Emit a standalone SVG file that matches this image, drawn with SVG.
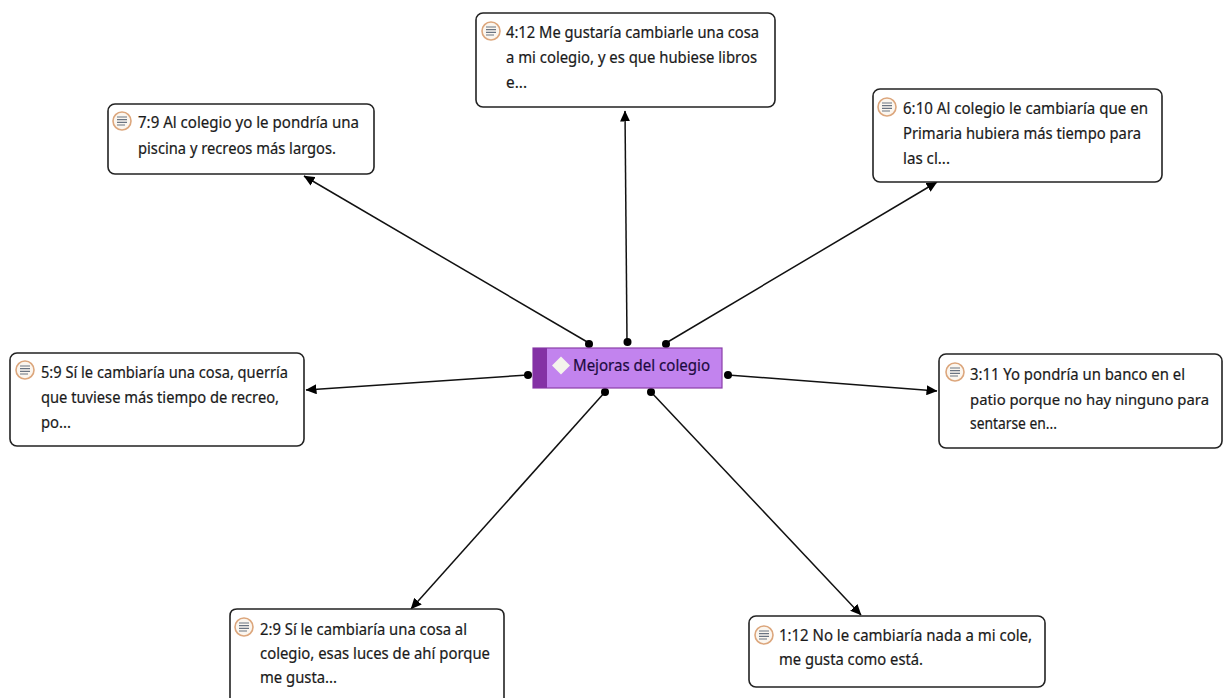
<svg xmlns="http://www.w3.org/2000/svg" width="1223" height="698" viewBox="0 0 1223 698">
<style>
.box{fill:#fff;stroke:#222;stroke-width:1.6}
.t{font-family:"Noto Sans","Open Sans","DejaVu Sans",sans-serif;font-size:16px;fill:#1a1a1a;stroke:#1a1a1a;stroke-width:.2}
.c{stroke:#111;stroke-width:1.5;fill:none;marker-end:url(#a)}
.d{fill:#000}
.ic{fill:#fbf6ef;stroke:#dca67c;stroke-width:1.6}
.il{stroke:#6a7482;stroke-width:1.2}
</style>
<defs>
<marker id="a" markerUnits="userSpaceOnUse" markerWidth="11" markerHeight="10" refX="10.500" refY="5" orient="auto"><path d="M0 0L11 5L0 10Z" fill="#000"/></marker>
<g id="i"><circle cx="0" cy="0" r="9" class="ic"/><path class="il" d="M-5-4H5M-5-1.300H5M-5 1.400H5M-5 4H3"/></g>
</defs>
<rect width="1223" height="698" fill="#fff"/>
<g id="connectors">
<path class="c" d="M589 343L304 176"/>
<path class="c" d="M627 341L625 111"/>
<path class="c" d="M666 343L937 182"/>
<path class="c" d="M528 375L306 390"/>
<path class="c" d="M728 375L937 391"/>
<path class="c" d="M605 392L411 609"/>
<path class="c" d="M651 392L861 615"/>
<g class="d"><circle cx="589" cy="344" r="4"/><circle cx="627.500" cy="342" r="4"/><circle cx="666" cy="344" r="4"/><circle cx="528" cy="375" r="4"/><circle cx="728" cy="375" r="4"/><circle cx="605" cy="392" r="4"/><circle cx="651" cy="392" r="4"/></g>
</g>
<g id="center">
<rect x="533" y="348" width="189" height="40" fill="#c283ee" stroke="#8a3fa8" stroke-width="1.200"/>
<rect x="533" y="348" width="14" height="40" fill="#8432a5"/>
<path d="M561 356.500L570 365.500L561 374.500L552 365.500Z" fill="#f4f4ec"/>
<text x="573" y="371" class="t" style="fill:#1c0a40;stroke:#1c0a40" textLength="137" lengthAdjust="spacingAndGlyphs">Mejoras del colegio</text>
</g>
<g id="n4">
<rect class="box" x="476" y="13" width="299" height="94" rx="7"/><use href="#i" x="491" y="31"/>
<text class="t" x="506" y="38" textLength="253" lengthAdjust="spacingAndGlyphs">4:12 Me gustaría cambiarle una cosa</text><text class="t" x="506" y="63" textLength="251" lengthAdjust="spacingAndGlyphs">a mi colegio, y es que hubiese libros</text><text class="t" x="506" y="88" textLength="21" lengthAdjust="spacingAndGlyphs">e...</text>
</g>
<g id="n7">
<rect class="box" x="108" y="104" width="266" height="70" rx="7"/><use href="#i" x="122" y="121"/>
<text class="t" x="138" y="128" textLength="221" lengthAdjust="spacingAndGlyphs">7:9 Al colegio yo le pondría una</text><text class="t" x="138" y="154" textLength="198" lengthAdjust="spacingAndGlyphs">piscina y recreos más largos.</text>
</g>
<g id="n6">
<rect class="box" x="873" y="89" width="289" height="93" rx="7"/><use href="#i" x="887" y="107"/>
<text class="t" x="903" y="114" textLength="245" lengthAdjust="spacingAndGlyphs">6:10 Al colegio le cambiaría que en</text><text class="t" x="903" y="139" textLength="238" lengthAdjust="spacingAndGlyphs">Primaria hubiera más tiempo para</text><text class="t" x="903" y="164" textLength="47" lengthAdjust="spacingAndGlyphs">las cl...</text>
</g>
<g id="n5">
<rect class="box" x="10" y="353" width="294" height="93" rx="7"/><use href="#i" x="25" y="370"/>
<text class="t" x="41" y="378" textLength="247" lengthAdjust="spacingAndGlyphs">5:9 Sí le cambiaría una cosa, querría</text><text class="t" x="41" y="403" textLength="238" lengthAdjust="spacingAndGlyphs">que tuviese más tiempo de recreo,</text><text class="t" x="41" y="428" textLength="30" lengthAdjust="spacingAndGlyphs">po...</text>
</g>
<g id="n3">
<rect class="box" x="939" y="354" width="283" height="94" rx="7"/><use href="#i" x="955" y="372"/>
<text class="t" x="970" y="380" textLength="215" lengthAdjust="spacingAndGlyphs">3:11 Yo pondría un banco en el</text><text class="t" x="970" y="405" style="font-size:15px" textLength="239" lengthAdjust="spacingAndGlyphs">patio porque no hay ninguno para</text><text class="t" x="970" y="429" textLength="87" lengthAdjust="spacingAndGlyphs">sentarse en...</text>
</g>
<g id="n2">
<path class="box" d="M230 698V616Q230 609 237 609H497Q504 609 504 616V698"/><use href="#i" x="244" y="627"/>
<text class="t" x="260" y="635" textLength="207" lengthAdjust="spacingAndGlyphs">2:9 Sí le cambiaría una cosa al</text><text class="t" x="260" y="659" textLength="230" lengthAdjust="spacingAndGlyphs">colegio, esas luces de ahí porque</text><text class="t" x="260" y="683" textLength="77" lengthAdjust="spacingAndGlyphs">me gusta...</text>
</g>
<g id="n1">
<rect class="box" x="749" y="616" width="296" height="71" rx="7"/><use href="#i" x="764" y="635"/>
<text class="t" x="779" y="641" textLength="253" lengthAdjust="spacingAndGlyphs">1:12 No le cambiaría nada a mi cole,</text><text class="t" x="779" y="665" textLength="144" lengthAdjust="spacingAndGlyphs">me gusta como está.</text>
</g>
</svg>
